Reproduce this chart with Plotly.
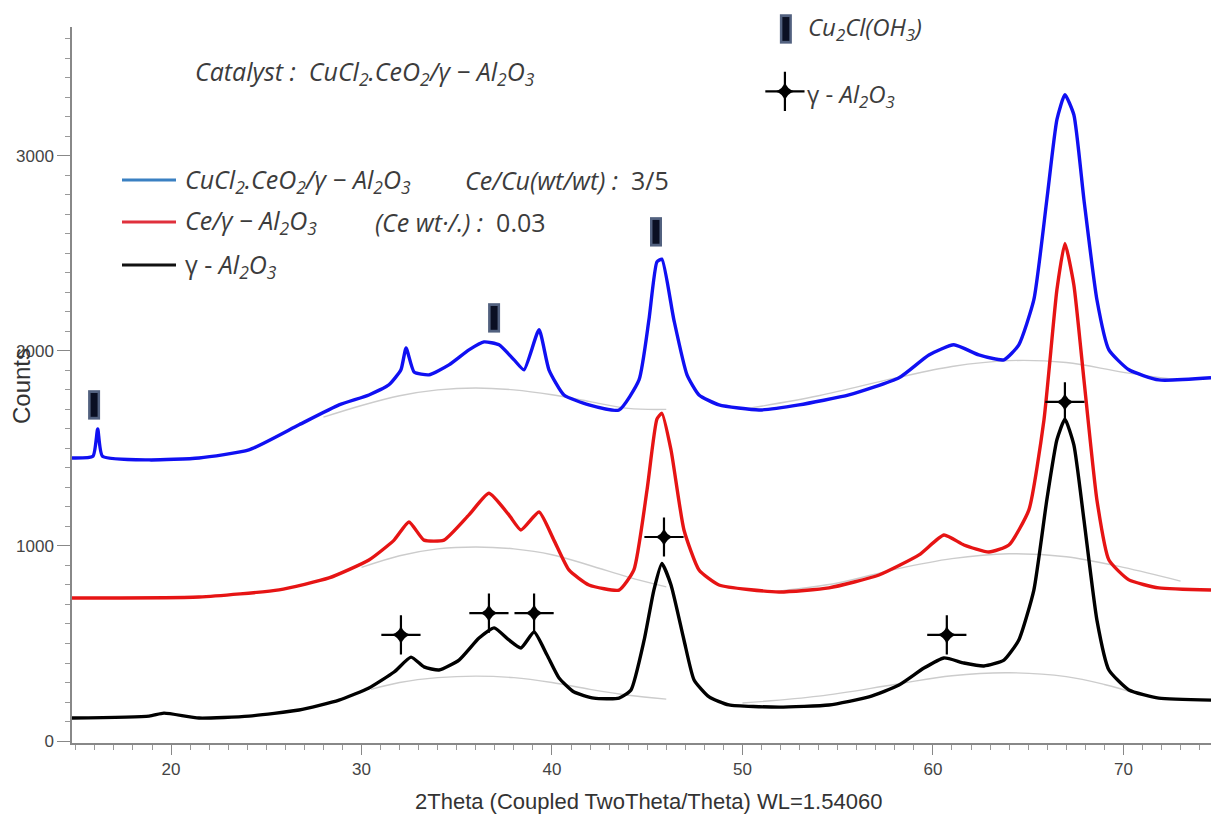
import plotly.graph_objects as go

# ---------------- data ----------------
black_x = [14.8, 18.85, 19.63, 21.47, 24.09, 26.72, 28.82, 30.39, 31.71, 32.6, 33.28, 34.07, 35.12,
           36.17, 36.96, 37.74, 38.37, 39.06, 39.74, 40.37, 41.16, 42.2, 43.52, 44.15, 44.84, 45.35,
           45.77, 46.25, 46.93, 47.46, 48.25, 49.29, 51.92, 54.54, 56.64, 58.22, 59.53, 60.58, 61.63,
           62.68, 63.73, 64.51, 65.3, 65.98, 66.51, 66.93, 67.4, 67.93, 68.61, 69.24, 70.29, 71.86, 74.6]
black_y = [118, 128, 143, 118, 128, 159, 210, 272, 354, 430, 380, 364, 415,
           528, 580, 518, 477, 559, 441, 323, 251, 220, 220, 262, 518, 774,
           910, 800, 518, 313, 226, 185, 174, 185, 226, 287, 374, 426, 400,
           385, 415, 518, 774, 1236, 1544, 1650, 1518, 1133, 620, 364, 262, 220, 210]

red_x = [14.8, 21.47, 25.67, 28.29, 30.39, 31.71, 32.49, 33.28, 34.33, 35.64, 36.69, 37.74, 38.37,
         39.32, 40.1, 40.89, 41.94, 43.52, 44.3, 44.99, 45.51, 45.77, 46.25, 46.93, 47.72, 48.77,
         51.92, 54.54, 57.17, 59.27, 60.58, 61.63, 62.94, 63.99, 65.04, 65.83, 66.51, 66.93, 67.4,
         67.93, 68.61, 69.24, 70.29, 71.86, 74.6]
red_y = [733, 738, 775, 836, 928, 1030, 1123, 1030, 1030, 1159, 1270, 1159, 1082,
         1174, 1030, 877, 800, 774, 877, 1287, 1650, 1680, 1492, 1082, 877, 800,
         764, 785, 851, 954, 1056, 1005, 969, 1005, 1185, 1646, 2313, 2550, 2338,
         1851, 1236, 928, 826, 785, 774]

blue_x = [14.8, 15.9, 16.15, 16.4, 18.85, 21.47, 24.09, 26.72, 28.82, 30.39, 31.44, 32.07, 32.34,
          32.76, 33.54, 34.59, 35.64, 36.43, 37.22, 38.01, 38.53, 39.32, 39.84, 40.63, 41.94, 43.52,
          44.57, 45.09, 45.51, 45.77, 46.4, 47.09, 47.72, 48.77, 50.87, 52.97, 55.59, 58.22, 59.79,
          61.1, 62.41, 63.73, 64.51, 65.3, 65.98, 66.51, 66.93, 67.4, 67.93, 68.61, 69.24, 70.29,
          71.86, 74.6]
blue_y = [1451, 1460, 1600, 1460, 1441, 1451, 1492, 1621, 1723, 1774, 1826, 1903, 2015,
          1892, 1877, 1928, 2005, 2046, 2031, 1954, 1903, 2108, 1903, 1774, 1723, 1697,
          1851, 2159, 2456, 2470, 2159, 1877, 1774, 1723, 1697, 1723, 1774, 1862, 1979,
          2031, 1979, 1954, 2031, 2262, 2774, 3185, 3313, 3210, 2774, 2262, 2005, 1903,
          1851, 1862]

# amorphous background fits (faint grey)
bg_black_x1 = [30.5, 32, 34, 36, 38, 40, 42, 44, 46]
bg_black_y1 = [265, 300, 325, 333, 325, 300, 265, 235, 215]
bg_black_x2 = [50, 54, 58, 61, 64, 67, 69, 71]
bg_black_y2 = [195, 230, 290, 335, 350, 330, 290, 235]
bg_red_x1 = [30, 32, 34, 36, 38, 40, 42, 44, 46]
bg_red_y1 = [890, 950, 985, 995, 985, 955, 900, 840, 790]
bg_red_x2 = [52, 55, 58, 61, 64, 67, 70, 73]
bg_red_y2 = [770, 810, 880, 935, 960, 945, 890, 820]
bg_blue_x1 = [28, 30, 32, 34, 36, 38, 40, 42, 44, 46]
bg_blue_y1 = [1660, 1720, 1770, 1800, 1810, 1800, 1775, 1740, 1705, 1700]
bg_blue_x2 = [50, 54, 58, 61, 64, 67, 70, 73]
bg_blue_y2 = [1700, 1770, 1860, 1920, 1950, 1940, 1890, 1850]

# phase markers
cucl_x = [15.96, 36.96, 45.46]
cucl_y = [1723, 2169, 2610]
al2o3_x = [32.07, 36.69, 39.06, 45.88, 60.73, 66.93]
al2o3_y = [544, 656, 656, 1046, 544, 1738]
key_x = [52.28, 52.23]
key_y = [3650, 3330]

x_ticks = [20, 30, 40, 50, 60, 70]
y_ticks = [0, 1000, 2000, 3000]

# ---------------- figure ----------------
W, H = 1211, 816
ML, MR, MT, MB = 72, 0, 27, 73
PW, PH = W - ML - MR, H - MT - MB


def px(x):
    return (x - ML) / PW


def py(y):
    return (H - MB - y) / PH


fig = go.Figure()

def bg(xs, ys):
    fig.add_trace(go.Scatter(x=xs, y=ys, mode="lines", line=dict(color="#cccccc", width=1.4, shape="spline"),
                             hoverinfo="skip", showlegend=False))

bg(bg_black_x1, bg_black_y1)
bg(bg_black_x2, bg_black_y2)
bg(bg_red_x1, bg_red_y1)
bg(bg_red_x2, bg_red_y2)
bg(bg_blue_x1, bg_blue_y1)
bg(bg_blue_x2, bg_blue_y2)

for xs, ys, c in [(blue_x, blue_y, "#1010f2"), (red_x, red_y, "#e61414"), (black_x, black_y, "#000000")]:
    fig.add_trace(go.Scatter(x=xs, y=ys, mode="lines",
                             line=dict(color=c, width=3.4, shape="spline", smoothing=0.5),
                             showlegend=False))

# Cu2Cl(OH)3 markers (rectangles) incl. key
rx = cucl_x + key_x[:1]
ry = cucl_y + key_y[:1]
fig.add_trace(go.Scatter(x=rx, y=ry, mode="markers", cliponaxis=False, showlegend=False,
                         marker=dict(symbol="line-ns", size=21, line=dict(width=12, color="#52617f"))))
fig.add_trace(go.Scatter(x=rx, y=ry, mode="markers", cliponaxis=False, showlegend=False,
                         marker=dict(symbol="line-ns", size=17, line=dict(width=7, color="#0a0f22"))))

# gamma-Al2O3 markers (sparkle crosses) incl. key
cx = al2o3_x + key_x[1:]
cy = al2o3_y + key_y[1:]
fig.add_trace(go.Scatter(x=cx, y=cy, mode="markers", cliponaxis=False, showlegend=False,
                         marker=dict(symbol="cross-thin", size=28, line=dict(width=2.2, color="#000"))))
fig.add_trace(go.Scatter(x=cx, y=cy, mode="markers", cliponaxis=False, showlegend=False,
                         marker=dict(symbol="star-diamond", size=14, color="#000", line=dict(width=0))))

tf = dict(family="'Open Sans', Lato, sans-serif", size=25, color="#3c3c3c")
ann = []

def text(x, y, t, size=25, **kw):
    f = dict(tf)
    f["size"] = size
    ann.append(dict(x=px(x), y=py(y), xref="paper", yref="paper", text=t, showarrow=False,
                    xanchor="left", yanchor="middle", font=f, **kw))

text(193, 72, "<i>Catalyst :  CuCl<sub>2</sub>.CeO<sub>2</sub>/γ − Al<sub>2</sub>O<sub>3</sub></i>")
text(183, 180, "<i>CuCl<sub>2</sub>.CeO<sub>2</sub>/γ − Al<sub>2</sub>O<sub>3</sub></i>")
text(463, 180, "<i>Ce/Cu(wt/wt) :</i>  3/5")
text(183, 222, "<i>Ce/γ − Al<sub>2</sub>O<sub>3</sub></i>")
text(373, 222, "<i>(Ce wt·/.) :</i>  0.03")
text(183, 265, "γ - <i>Al<sub>2</sub>O<sub>3</sub></i>")
text(806, 28, "<i>Cu<sub>2</sub>Cl(OH<sub>3</sub>)</i>", size=24)
text(805, 95, "γ - <i>Al<sub>2</sub>O<sub>3</sub></i>", size=24)

ann.append(dict(x=px(21), y=py(386), xref="paper", yref="paper", text="Counts", showarrow=False,
                textangle=-90, xanchor="center", yanchor="middle",
                font=dict(family="Liberation Sans, Arial", size=24, color="#333")))
ann.append(dict(x=px(648), y=py(801), xref="paper", yref="paper",
                text="2Theta (Coupled TwoTheta/Theta) WL=1.54060", showarrow=False,
                xanchor="center", yanchor="middle",
                font=dict(family="Liberation Sans, Arial", size=22, color="#333")))

shapes = []
for yy, c in [(180, "#3a80c2"), (222, "#e0303c"), (265, "#111111")]:
    shapes.append(dict(type="line", xref="paper", yref="paper", x0=px(122), x1=px(176),
                       y0=py(yy), y1=py(yy), line=dict(color=c, width=3)))

axfont = dict(family="Liberation Sans, Arial", size=17, color="#444")
fig.update_layout(
    width=W, height=H, margin=dict(l=ML, r=MR, t=MT, b=MB),
    paper_bgcolor="white", plot_bgcolor="white",
    annotations=ann, shapes=shapes, showlegend=False,
    xaxis=dict(range=[14.8, 74.6], tickvals=x_ticks, ticktext=[str(v) for v in x_ticks],
               ticks="outside", ticklen=10, tickwidth=1.2, tickcolor="#888",
               showline=True, linecolor="#888", linewidth=1.5, showgrid=False, zeroline=False,
               tickfont=axfont,
               minor=dict(dtick=1, tick0=0, ticks="outside", ticklen=5, tickcolor="#999", showgrid=False)),
    yaxis=dict(range=[-10, 3660], tickvals=y_ticks, ticktext=[str(v) for v in y_ticks],
               ticks="outside", ticklen=13, tickwidth=1.2, tickcolor="#888",
               showline=True, linecolor="#888", linewidth=1.5, showgrid=False, zeroline=False,
               tickfont=axfont,
               minor=dict(dtick=100, tick0=0, ticks="outside", ticklen=5, tickcolor="#999", showgrid=False)),
)

fig.write_html("out.html")
